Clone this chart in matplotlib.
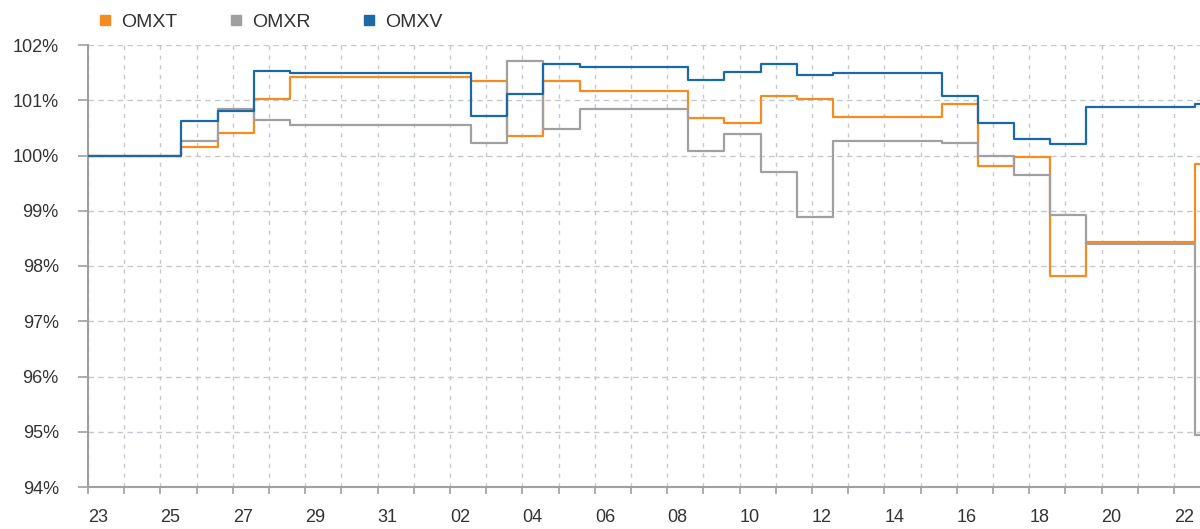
import matplotlib
matplotlib.use("Agg")
import matplotlib.pyplot as plt
from matplotlib.lines import Line2D
from matplotlib.ticker import PercentFormatter
import numpy as np

plt.rcParams['font.family'] = ['Liberation Sans', 'DejaVu Sans']

# one label per trading day, 23rd of the first month to the 22nd of the next
day_labels = ['23', '24', '25', '26', '27', '28', '29', '30', '31', '01',
              '02', '03', '04', '05', '06', '07', '08', '09', '10', '11',
              '12', '13', '14', '15', '16', '17', '18', '19', '20', '21', '22']

# index level in % of the starting value, value set on each day
omxt = [100.00, 100.00, 100.16, 100.40, 101.02, 101.42, 101.42, 101.42, 101.42, 101.42,
        101.35, 100.36, 101.34, 101.17, 101.17, 101.17, 100.68, 100.58, 101.07, 101.02,
        100.70, 100.70, 100.70, 100.93, 99.81, 99.97, 97.82, 98.43, 98.43, 98.43, 99.85]
omxr = [100.00, 100.00, 100.27, 100.85, 100.64, 100.55, 100.55, 100.55, 100.55, 100.55,
        100.22, 101.71, 100.48, 100.85, 100.85, 100.85, 100.09, 100.39, 99.71, 98.89,
        100.26, 100.26, 100.26, 100.22, 99.99, 99.65, 98.93, 98.40, 98.40, 98.40, 94.95]
omxv = [100.00, 100.00, 100.62, 100.81, 101.53, 101.49, 101.49, 101.49, 101.49, 101.49,
        100.72, 101.11, 101.65, 101.61, 101.61, 101.61, 101.37, 101.51, 101.65, 101.45,
        101.49, 101.49, 101.49, 101.07, 100.58, 100.30, 100.20, 100.87, 100.87, 100.87, 100.93]

series = [('OMXT', omxt, '#f68b1f'),
          ('OMXR', omxr, '#a0a0a0'),
          ('OMXV', omxv, '#1b69a6')]

days = np.arange(len(day_labels))
shift = 0.58  # values change in the afternoon of each day
x_end = 30.72

fig = plt.figure(figsize=(12, 5.29), dpi=100)
ax = fig.add_axes([88 / 1200, 1 - 487 / 529, 1 - 88 / 1200, (487 - 45) / 529])

for name, vals, color in series:
    x = np.concatenate([[0], days + shift, [x_end + 1]])
    y = np.concatenate([[vals[0]], vals, [vals[-1]]])
    ax.step(x, y, where='post', color=color, lw=1.6, label=name, zorder=3)

ax.set_xlim(0, x_end)
ax.set_ylim(94, 102)

ax.set_xticks(days)
ax.set_xticklabels([lab if i % 2 == 0 else '' for i, lab in enumerate(day_labels)],
                   ha='left')
ax.set_yticks(np.arange(94, 103, 1))
ax.yaxis.set_major_formatter(PercentFormatter(decimals=0))

ax.tick_params(axis='x', length=5, width=1.2, color='#a0a0a0', pad=11,
               labelsize=13, labelcolor='#333333')
ax.tick_params(axis='y', length=7, width=1.2, color='#a0a0a0', pad=14,
               labelsize=13, labelcolor='#333333')

for side in ('top', 'right'):
    ax.spines[side].set_visible(False)
for side in ('left', 'bottom'):
    ax.spines[side].set_color('#a0a0a0')
    ax.spines[side].set_linewidth(1.5)

ax.grid(axis='y', color='#c4c9cf', lw=1, linestyle=(0, (4, 3)), zorder=1)
ax.grid(axis='x', color='#c4c9cf', lw=1, linestyle=(0, (3, 4)), zorder=1)
ax.set_axisbelow(True)

handles = [Line2D([], [], marker='s', linestyle='none', markersize=7.5,
                  color=color, label=name) for name, _, color in series]
fig.legend(handles=handles, loc='upper left', bbox_to_anchor=(78 / 1200, 1 + 4 / 529),
           ncol=3, frameon=False, fontsize=14, handlelength=1.0, handletextpad=0.33,
           columnspacing=2.5, labelcolor='#333333')

fig.savefig('out.png', dpi=100)
